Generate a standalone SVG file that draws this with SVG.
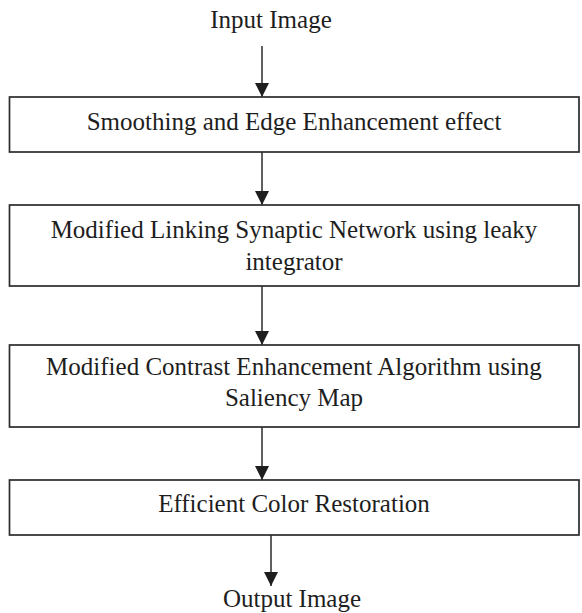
<svg xmlns="http://www.w3.org/2000/svg" width="582" height="613" viewBox="0 0 582 613">
  <style>
    .box { fill: #ffffff; stroke: #2b2b2b; stroke-width: 1.7; }
    .lbl { font-family: "Liberation Serif", "Times New Roman", serif; font-size: 25px; fill: #1e1e1e; text-anchor: middle; }
    .wire { stroke: #2b2b2b; stroke-width: 1.5; fill: none; marker-end: url(#head); }
  </style>
  <defs>
    <marker id="head" markerUnits="userSpaceOnUse" markerWidth="14" markerHeight="14" refX="14" refY="7" orient="auto">
      <path d="M0,0 L14,7 L0,14 z" fill="#1e1e1e"/>
    </marker>
  </defs>
  <rect width="582" height="613" fill="#ffffff"/>

  <!-- connectors -->
  <g id="connectors">
    <line class="wire" x1="262" y1="46" x2="262" y2="97"/>
    <line class="wire" x1="262" y1="152" x2="262" y2="205"/>
    <line class="wire" x1="262" y1="286" x2="262" y2="345"/>
    <line class="wire" x1="262" y1="427" x2="262" y2="480"/>
    <line class="wire" x1="271" y1="535" x2="271" y2="586"/>
  </g>

  <g id="input">
    <text class="lbl" x="271" y="28">Input Image</text>
  </g>

  <g id="smoothing">
    <rect class="box" x="9.5" y="97" width="569.5" height="55"/>
    <text class="lbl" x="294" y="130">Smoothing and Edge Enhancement effect</text>
  </g>

  <g id="linking">
    <rect class="box" x="9.5" y="205" width="569.5" height="81"/>
    <text class="lbl" x="294" y="238">Modified Linking Synaptic Network using leaky</text>
    <text class="lbl" x="294" y="270">integrator</text>
  </g>

  <g id="contrast">
    <rect class="box" x="9.5" y="345" width="569.5" height="82"/>
    <text class="lbl" x="294" y="375">Modified Contrast Enhancement Algorithm using</text>
    <text class="lbl" x="294" y="406">Saliency Map</text>
  </g>

  <g id="color">
    <rect class="box" x="9.5" y="480" width="569.5" height="55"/>
    <text class="lbl" x="294" y="512">Efficient Color Restoration</text>
  </g>

  <g id="output">
    <text class="lbl" x="292" y="607">Output Image</text>
  </g>
</svg>
